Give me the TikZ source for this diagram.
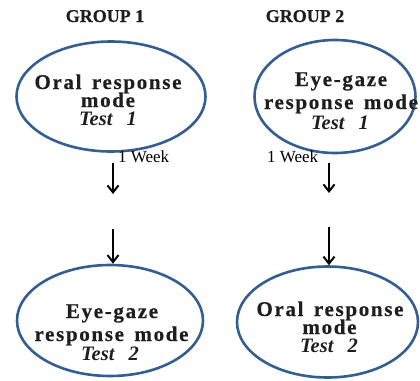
\documentclass[tikz,border=0pt]{standalone}
\usepackage{fontspec}
\setmainfont{Liberation Serif}[BoldFeatures={FakeBold=0.5}]
\newfontfamily\lsp[LetterSpace=8,BoldFeatures={FakeBold=0.5}]{Liberation Serif}
\usetikzlibrary{shapes.geometric,arrows.meta}
\definecolor{ovalblue}{RGB}{52,94,145}
\definecolor{inkgray}{RGB}{30,30,30}
\tikzset{
  oval/.style={draw=ovalblue, line width=2.6pt, ellipse, inner sep=0pt},
  bline/.style={font=\lsp\bfseries\fontsize{21}{21}\selectfont, text=inkgray, anchor=base, inner sep=0pt},
  iline/.style={font=\bfseries\itshape\fontsize{20.5}{20.5}\selectfont, text=inkgray, anchor=base, inner sep=0pt},
  grp/.style={font=\bfseries\fontsize{18}{18}\selectfont, text=inkgray, anchor=base, inner sep=0pt},
  wk/.style={font=\fontsize{17}{17}\selectfont, anchor=base west, inner sep=0pt},
  arr/.style={-{Straight Barb[length=7pt,width=11pt,line width=2pt]}, line width=1.8pt}
}
\begin{document}
\begin{tikzpicture}[x=1pt,y=-1pt]
\useasboundingbox (0,0) rectangle (420,380);
\clip (0,0) rectangle (420,380);
% group titles
\node[grp] (g1) at (105,22) {GROUP 1};
\node[grp] (g2) at (305,22) {GROUP 2};
% ovals
\node[oval, minimum width=189pt, minimum height=110pt] (e1) at (111,96.5) {};
\node[oval, minimum width=161pt, minimum height=113pt] (e2) at (335,96.5) {};
\node[oval, minimum width=186pt, minimum height=111pt] (e3) at (110,320.5) {};
\node[oval, minimum width=181pt, minimum height=111pt] (e4) at (327.5,322) {};
% texts
\node[bline] (t1a) at (108,89) {Oral\, response};
\node[bline] (t1b) at (108,107) {mode};
\node[iline] (t1c) at (108,125) {Test\;\, 1};
\node[bline] (t2a) at (341,86) {Eye-gaze};
\node[bline] (t2b) at (341,109) {response\, mode};
\node[iline] (t2c) at (340,129) {Test\;\, 1};
\node[bline] (t3a) at (112,318) {Eye-gaze};
\node[bline] (t3b) at (111.5,341) {response\, mode};
\node[iline] (t3c) at (110,360) {Test\;\, 2};
\node[bline] (t4a) at (330,316) {Oral\, response};
\node[bline] (t4b) at (329.5,334) {mode};
\node[iline] (t4c) at (329,352) {Test\;\, 2};
% week labels
\node[wk] (w1) at (118,162) {1 Week};
\node[wk] (w2) at (267,162) {1 Week};
% arrows
\coordinate (a1s) at (113,163);
\coordinate (a1e) at (113,194);
\coordinate (a2s) at (113,229);
\coordinate (b1s) at (329,163);
\coordinate (b1e) at (329,193);
\coordinate (b2s) at (329,227);
\draw[arr] (a1s) -- (a1e);
\draw[arr] (a2s) -- (a2s |- e3.north);
\draw[arr] (b1s) -- (b1e);
\draw[arr] (b2s) -- (b2s |- e4.north);
\end{tikzpicture}
\end{document}
